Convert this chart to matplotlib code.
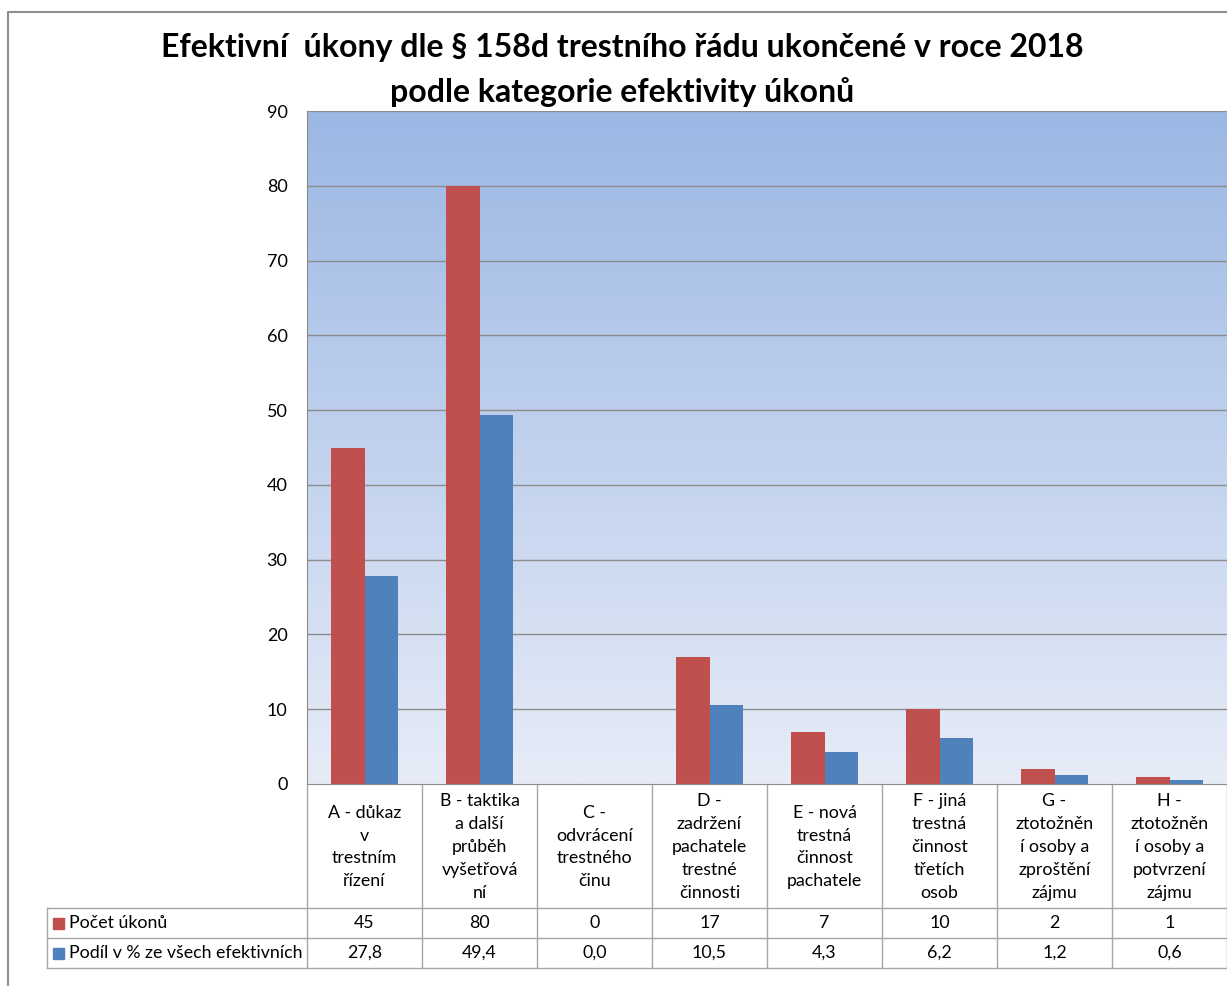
import numpy as np
import matplotlib.pyplot as plt
from matplotlib.lines import Line2D
from matplotlib.patches import Rectangle

plt.rcParams['font.family'] = ['Lato', 'DejaVu Sans']

categories = [
    "A - důkaz\nv\ntrestním\nřízení",
    "B - taktika\na další\nprůběh\nvyšetřová\nní",
    "C -\nodvrácení\ntrestného\nčinu",
    "D -\nzadržení\npachatele\ntrestné\nčinnosti",
    "E - nová\ntrestná\nčinnost\npachatele",
    "F - jiná\ntrestná\nčinnost\ntřetích\nosob",
    "G -\nztotožněn\ní osoby a\nzproštění\nzájmu",
    "H -\nztotožněn\ní osoby a\npotvrzení\nzájmu",
]
pocet = [45, 80, 0, 17, 7, 10, 2, 1]
podil = [27.8, 49.4, 0.0, 10.5, 4.3, 6.2, 1.2, 0.6]
series_names = ["Počet úkonů", "Podíl v % ze všech efektivních"]
y_ticks = list(range(0, 91, 10))

RED = "#C0504D"
BLUE = "#4F81BD"
GRID = "#8C8C8C"
TBL = "#A6A6A6"

W, H = 1227, 986
fig = plt.figure(figsize=(W / 100, H / 100), dpi=100)


def fbox(x0, y0, x1, y1):
    # pixel box (top-left origin) -> figure fraction rect
    return [x0 / W, 1 - y1 / H, (x1 - x0) / W, (y1 - y0) / H]


# overlay for border, title and table, pixel coordinates
ov = fig.add_axes([0, 0, 1, 1])
ov.set_xlim(0, W)
ov.set_ylim(H, 0)
ov.axis('off')

ov.add_line(Line2D([8, 8, W], [H, 12, 12], color="#8F8F8F", lw=1.5))

ov.text(622, 48, "Efektivní  úkony dle § 158d trestního řádu ukončené v roce 2018",
        ha='center', va='center', fontsize=23, fontweight='bold')
ov.text(622, 92, "podle kategorie efektivity úkonů",
        ha='center', va='center', fontsize=23, fontweight='bold')

# chart axes
x0, x1, ytop, ybot = 307, 1227, 111, 784
ax = fig.add_axes(fbox(x0, ytop, x1, ybot))
ax.set_xlim(-0.5, len(categories) - 0.5)
ax.set_ylim(0, 90)

grad = np.linspace(0, 1, 256).reshape(-1, 1)
top = np.array([155, 183, 228]) / 255
bot = np.array([231, 236, 247]) / 255
img = top * (1 - grad[..., None]) + bot * grad[..., None]
img = np.repeat(img, 2, axis=1)
ax.imshow(img, extent=[-0.5, len(categories) - 0.5, 0, 90], aspect='auto',
          origin='upper', zorder=0)

for t in y_ticks[1:]:
    ax.axhline(t, color=GRID, lw=1, zorder=1)

x = np.arange(len(categories))
bw = 0.29
ax.bar(x - bw / 2, pocet, bw, color=RED, zorder=2)
ax.bar(x + bw / 2, podil, bw, color=BLUE, zorder=2)

ax.set_yticks(y_ticks)
ax.tick_params(axis='y', length=0, labelsize=13, pad=14)
ax.set_xticks([])
for s in ['top', 'right']:
    ax.spines[s].set_visible(False)
ax.spines['left'].set_color(GRID)
ax.spines['bottom'].set_color(GRID)

# data table under the chart
cw = (x1 - x0) / len(categories)
hdr_bot, r1, r2 = 908, 938, 968
tx0 = 47
for i in range(len(categories) + 1):
    xx = x0 + i * cw
    ov.add_line(Line2D([xx, xx], [ybot, r2], color=TBL, lw=1))
ov.add_line(Line2D([tx0, tx0], [hdr_bot, r2], color=TBL, lw=1))
for yy in [hdr_bot, r1, r2]:
    ov.add_line(Line2D([tx0, W], [yy, yy], color=TBL, lw=1))

for i, lab in enumerate(categories):
    cx = x0 + (i + 0.5) * cw
    ov.text(cx, (ybot + hdr_bot) / 2 + 1, lab, ha='center', va='center',
            fontsize=12.8, linespacing=1.52)
    ov.text(cx, (hdr_bot + r1) / 2, str(pocet[i]), ha='center', va='center',
            fontsize=12.8)
    ov.text(cx, (r1 + r2) / 2, f"{podil[i]:.1f}".replace('.', ','),
            ha='center', va='center', fontsize=12.8)

for (y_a, y_b), name, col in zip([(hdr_bot, r1), (r1, r2)], series_names, [RED, BLUE]):
    yc = (y_a + y_b) / 2
    ov.add_patch(Rectangle((53, yc - 5.5), 11, 11, color=col))
    ov.text(69, yc, name, ha='left', va='center', fontsize=12.8)

fig.savefig("out.png", dpi=100)
